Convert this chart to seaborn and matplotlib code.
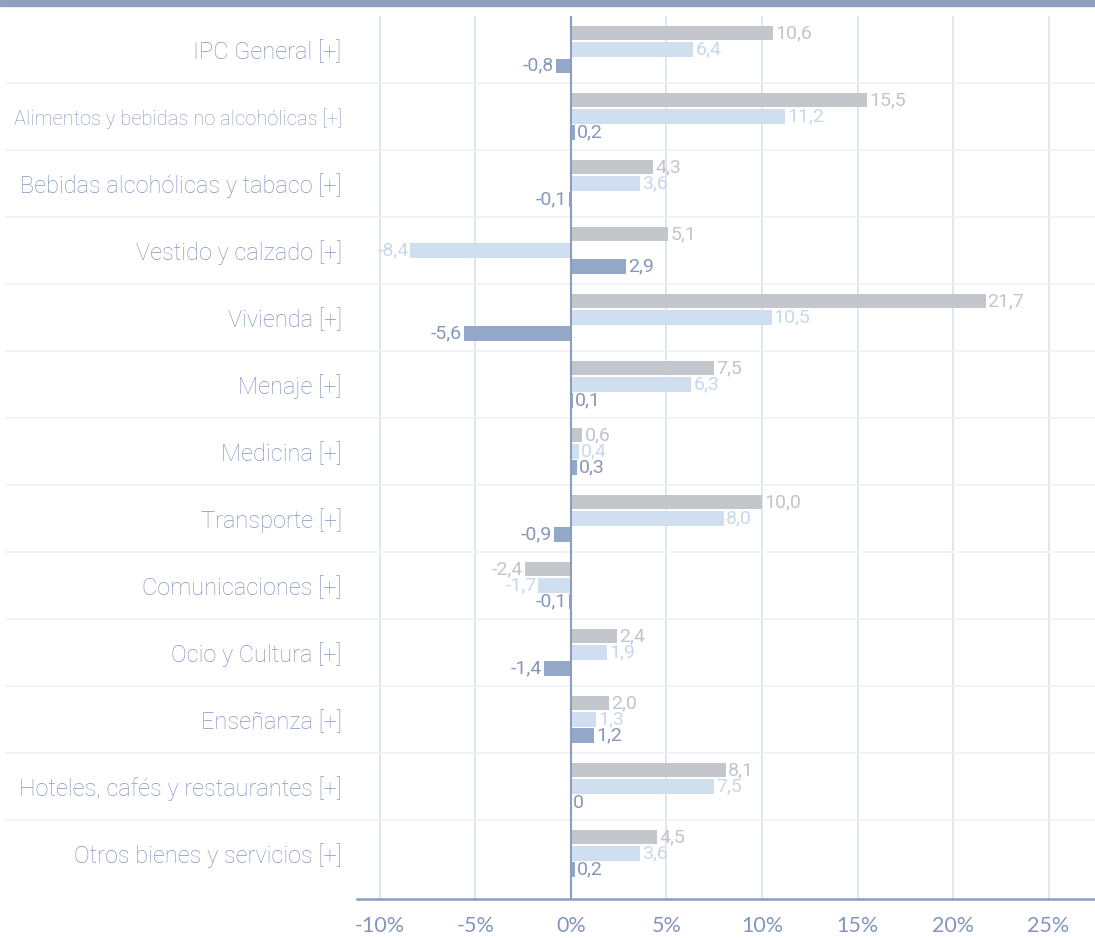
import pandas as pd
import numpy as np
import seaborn as sns
import matplotlib.pyplot as plt
from matplotlib.patches import Rectangle

categorias = ['IPC General [+]', 'Alimentos y bebidas no alcohólicas [+]',
              'Bebidas alcohólicas y tabaco [+]', 'Vestido y calzado [+]',
              'Vivienda [+]', 'Menaje [+]', 'Medicina [+]', 'Transporte [+]',
              'Comunicaciones [+]', 'Ocio y Cultura [+]', 'Enseñanza [+]',
              'Hoteles, cafés y restaurantes [+]', 'Otros bienes y servicios [+]']
series = ['serie_1', 'serie_2', 'serie_3']
serie_1 = [10.6, 15.5, 4.3, 5.1, 21.7, 7.5, 0.6, 10.0, -2.4, 2.4, 2.0, 8.1, 4.5]
serie_2 = [6.4, 11.2, 3.6, -8.4, 10.5, 6.3, 0.4, 8.0, -1.7, 1.9, 1.3, 7.5, 3.6]
serie_3 = [-0.8, 0.2, -0.1, 2.9, -5.6, 0.1, 0.3, -0.9, -0.1, -1.4, 1.2, 0.0, 0.2]
x_ticks = [-10, -5, 0, 5, 10, 15, 20, 25]

bar_colors = ['#c3c7cb', '#cfdff0', '#93a7c9']
label_colors = ['#c2c5c9', '#c8d8ec', '#8797bb']
text_color = '#8595bf'
grid_color = '#d6dfec'
axis_color = '#8c9dc2'


def fmt(v):
    if v == 0:
        return '0'
    return '{0:.1f}'.format(v).replace('.', ',')


def main():
    sns.set_style('white')
    plt.rcParams['font.family'] = ['Roboto', 'DejaVu Sans']

    df = pd.DataFrame({
        'categoria': categorias * 3,
        'serie': np.repeat(series, len(categorias)),
        'valor': serie_1 + serie_2 + serie_3,
    })

    fig = plt.figure(figsize=(10.95, 9.38), dpi=100)
    ax = fig.add_axes([357 / 1095, 39 / 938, 738 / 1095, 883 / 938])

    # header stripe
    fig.patches.append(Rectangle((0, 1 - 6 / 938), 1, 6 / 938, transform=fig.transFigure,
                                 color='#8fa0be', zorder=5))

    sns.barplot(data=df, x='valor', y='categoria', hue='serie', orient='h',
                order=categorias, hue_order=series, palette=bar_colors,
                width=0.72, gap=0.12, saturation=1, linewidth=0,
                errorbar=None, legend=False, ax=ax, zorder=3)

    # row separators
    for i in range(len(categorias) - 1):
        ax.plot([-0.475, 1], [i + 0.5, i + 0.5], transform=ax.get_yaxis_transform(),
                color='#f0f2f8', lw=1.3, clip_on=False, zorder=1)

    ax.set_xlim(-11.2, 27.43)
    ax.set_ylim(12.68, -0.5)
    ax.set_xticks(x_ticks)
    ax.set_xticklabels(['{0}%'.format(t) for t in x_ticks], family='Lato',
                       fontsize=15.5, color=text_color)
    ax.grid(axis='x', color=grid_color, lw=1.1, zorder=0)
    ax.grid(axis='y', visible=False)
    ax.set_axisbelow(True)
    ax.tick_params(axis='x', length=9.5, width=1, color=grid_color, pad=3)
    ax.tick_params(axis='y', length=0, pad=11, labelsize=17, labelcolor=text_color)
    for lab in ax.get_yticklabels():
        lab.set_fontweight('light')
    ax.get_yticklabels()[1].set_fontsize(14.5)
    ax.xaxis.get_major_ticks()[2].tick1line.set_color(axis_color)
    ax.xaxis.get_major_ticks()[2].tick1line.set_markeredgewidth(1.5)

    ax.set_xlabel('')
    ax.set_ylabel('')
    for s in ['top', 'right', 'left']:
        ax.spines[s].set_visible(False)
    ax.spines['bottom'].set_color(axis_color)
    ax.spines['bottom'].set_linewidth(1.8)
    ax.axvline(0, color=axis_color, lw=1.5, zorder=4)

    for cont, vals, col in zip(ax.containers, [serie_1, serie_2, serie_3], label_colors):
        ax.bar_label(cont, labels=[fmt(v) for v in vals], padding=1.5, color=col,
                     fontsize=14)

    fig.savefig('out.png', dpi=100)


if __name__ == '__main__':
    main()
